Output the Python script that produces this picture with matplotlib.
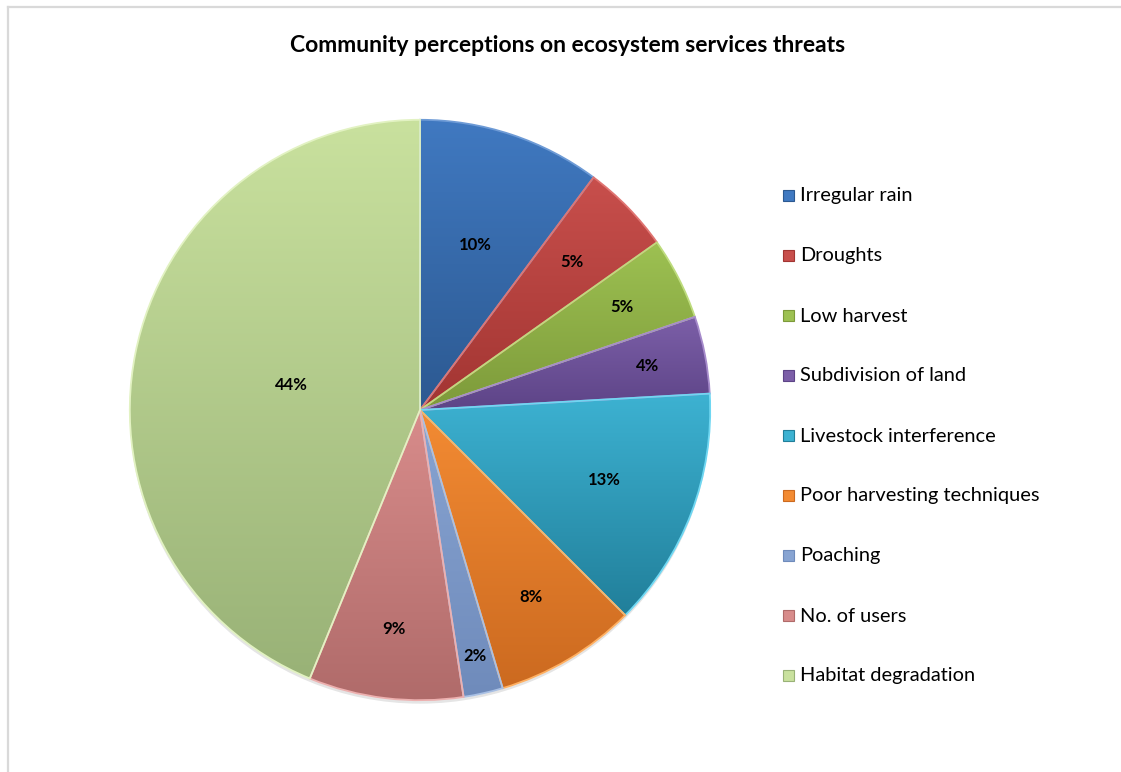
import matplotlib
matplotlib.use("Agg")
import matplotlib.pyplot as plt
import numpy as np
from matplotlib.patches import Wedge, Rectangle, Circle
from matplotlib.colors import to_rgb
from matplotlib.lines import Line2D

plt.rcParams['font.family'] = ['Lato', 'DejaVu Sans']

# data
categories = ["Irregular rain", "Droughts", "Low harvest", "Subdivision of land",
              "Livestock interference", "Poor harvesting techniques", "Poaching",
              "No. of users", "Habitat degradation"]
shares = [10.2, 5.0, 4.6, 4.3, 13.4, 7.9, 2.2, 8.6, 43.8]
pct_labels = ["10%", "5%", "5%", "4%", "13%", "8%", "2%", "9%", "44%"]

# style
top_cols = ["#4079C1", "#C84F4C", "#9DC152", "#7C5FA8", "#3DB2D2", "#F38B33",
            "#88A4D2", "#D88C8B", "#C9E19E"]
bot_cols = ["#2C5991", "#A23532", "#7D9A3A", "#5D4487", "#217F9A", "#CC6A20",
            "#6F8BBB", "#B06B6A", "#99B277"]
edge_cols = ["#6E9BD6", "#E07572", "#BEDC7E", "#A68BCB", "#6FD7F2", "#FFB062",
             "#A9C0E4", "#EDB0AF", "#E2F2C2"]
label_r = [0.60, 0.73, 0.78, 0.80, 0.68, 0.75, 0.87, 0.76, 0.45]

fig = plt.figure(figsize=(11.21, 7.72), dpi=100)
fig.patch.set_facecolor("white")

# chart border (top + left)
fig.add_artist(Line2D([7.5/1121, 1], [1-6.5/772, 1-6.5/772], color="#d9d9d9", lw=1.6))
fig.add_artist(Line2D([7.5/1121, 7.5/1121], [0, 1-6.5/772], color="#d9d9d9", lw=1.6))

fig.text(568/1121, 1-46/772, "Community perceptions on ecosystem services threats",
         ha="center", va="center", fontsize=16.5, fontweight="bold")

cx, cy, R = 420, 410, 296
ax = fig.add_axes([(cx-R)/1121, (772-cy-R)/772, 2*R/1121, 2*R/772])

wedges, _ = ax.pie(shares, startangle=90, counterclock=False, radius=1,
                   wedgeprops=dict(linewidth=0))

# soft shadow
ax.add_patch(Circle((0.0, -0.012), 1.0, color="black", alpha=0.10, zorder=0, lw=0))
for w in wedges:
    w.set_zorder(1)

for i, w in enumerate(wedges):
    t, b = np.array(to_rgb(top_cols[i])), np.array(to_rgb(bot_cols[i]))
    w.set_facecolor(bot_cols[i])
    ext = w.get_path().get_extents()
    g = np.linspace(0, 1, 200)[:, None, None]
    img = t * (1 - g) + b * g
    im = ax.imshow(img, extent=[ext.x0, ext.x1, ext.y0, ext.y1], origin="upper",
                   aspect="auto", zorder=2, interpolation="bilinear")
    im.set_clip_path(w)
    ax.add_patch(Wedge(w.center, w.r, w.theta1, w.theta2, fill=False,
                       edgecolor=edge_cols[i], lw=1.3, zorder=3))
    mid = np.deg2rad((w.theta1 + w.theta2) / 2)
    ax.text(label_r[i]*np.cos(mid), label_r[i]*np.sin(mid), pct_labels[i],
            ha="center", va="center", fontsize=12, fontweight="bold", zorder=4)

ax.set_xlim(-1.02, 1.02)
ax.set_ylim(-1.02, 1.02)
ax.set_aspect("equal")
ax.axis("off")

# legend
for i, name in enumerate(categories):
    y = 196 + 60*i
    fig.add_artist(Rectangle((783/1121, 1-(y+5)/772), 11/1121, 11/772,
                             facecolor=top_cols[i], edgecolor=bot_cols[i], lw=0.8))
    fig.text(800/1121, 1-y/772, name, ha="left", va="center", fontsize=14.4)

fig.savefig("out.png", dpi=100)
